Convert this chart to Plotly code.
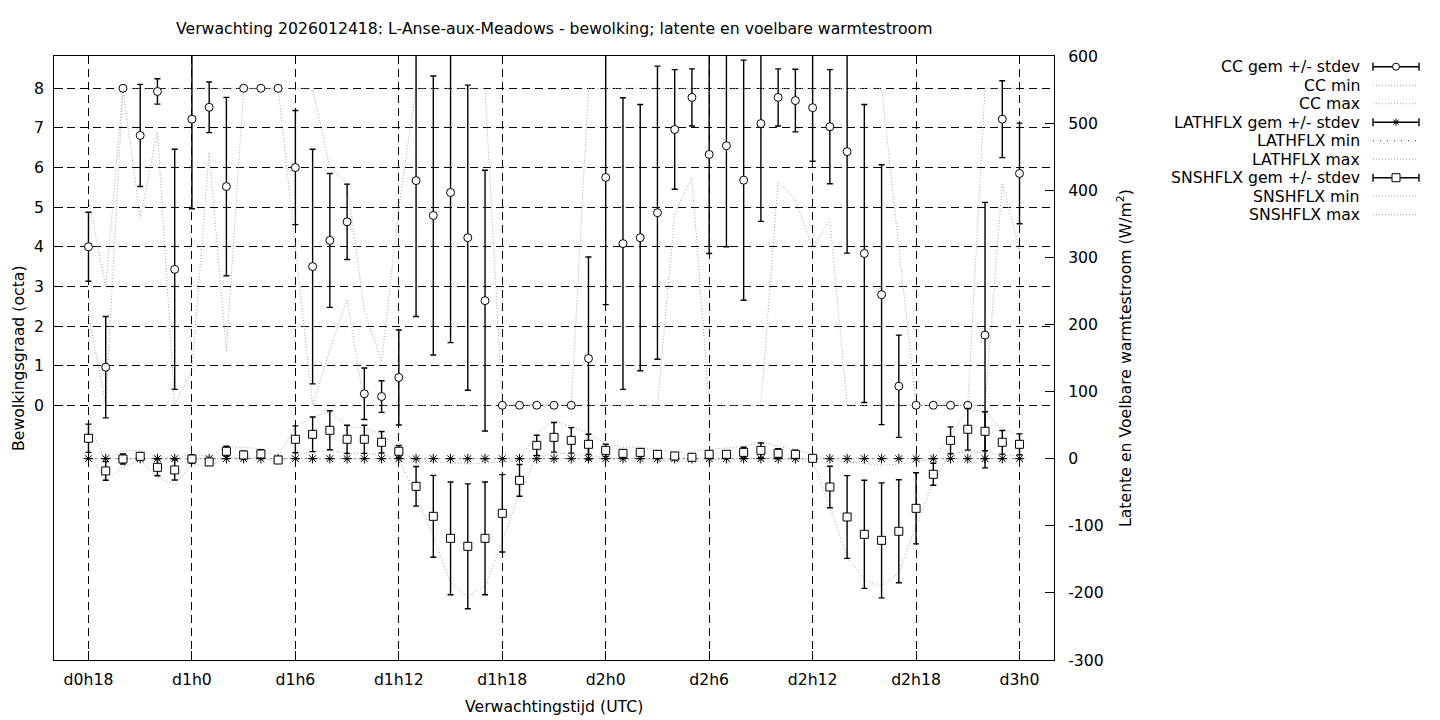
import plotly.graph_objects as go

# ---------------- data ----------------
hours = list(range(18, 73))  # forecast hours from d0h0
tick_vals = [18, 24, 30, 36, 42, 48, 54, 60, 66, 72]
tick_text = ["d0h18", "d1h0", "d1h6", "d1h12", "d1h18", "d2h0", "d2h6", "d2h12", "d2h18", "d3h0"]
y2_ticks = [-300, -200, -100, 0, 100, 200, 300, 400, 500, 600]
y2_text = ["-300", "-200", "-100", "0", "100", "200", "300", "400", "500", "600"]

cc_mean = [4.00, 0.96, 8.00, 6.81, 7.92, 3.43, 7.22, 7.52, 5.52, 8.00, 8.00, 8.00,
           6.00, 3.50, 4.16, 4.63, 0.29, 0.22, 0.70, 5.67, 4.79, 5.37, 4.23, 2.64,
           0.00, 0.00, 0.00, 0.00, 0.00, 1.18, 5.75, 4.08, 4.23, 4.86, 6.96, 7.77,
           6.33, 6.55, 5.68, 7.11, 7.77, 7.69, 7.51, 7.03, 6.40, 3.83, 2.79, 0.48,
           0.00, 0.00, 0.00, 0.00, 1.77, 7.22, 5.85]
cc_std = [0.87, 1.28, 0.00, 1.29, 0.32, 3.03, 2.26, 0.64, 2.25, 0.00, 0.00, 0.00,
          1.44, 2.96, 1.69, 0.95, 0.65, 0.40, 1.20, 3.43, 3.52, 3.79, 3.85, 3.29,
          0.00, 0.00, 0.00, 0.00, 0.00, 2.56, 3.21, 3.68, 3.36, 3.70, 1.51, 0.72,
          2.50, 2.55, 3.03, 2.47, 0.72, 0.79, 1.35, 1.44, 2.56, 3.76, 3.28, 1.29,
          0.00, 0.00, 0.00, 0.00, 3.35, 0.97, 1.27]
cc_min = [2.30, 0.00, 8.00, 4.73, 6.90, 0.00, 0.90, 6.37, 1.36, 8.00, 8.00, 8.00,
          4.00, 0.00, 1.40, 2.67, 0.00, 0.00, 0.00, 0.00, 0.00, 0.00, 0.00, 0.00,
          0.00, 0.00, 0.00, 0.00, 0.00, 0.00, 0.00, 0.00, 0.00, 0.00, 4.85, 5.74,
          0.00, 0.00, 0.00, 0.00, 5.65, 5.19, 3.97, 4.69, 0.00, 0.00, 0.00, 0.00,
          0.00, 0.00, 0.00, 0.00, 0.00, 5.61, 3.93]
cc_max = [5.20, 3.00, 8.00, 8.00, 8.00, 8.00, 8.00, 8.00, 8.00, 8.00, 8.00, 8.00,
          8.00, 8.00, 6.00, 5.60, 2.40, 1.10, 5.00, 8.00, 8.00, 8.00, 8.00, 8.00,
          0.00, 0.00, 0.00, 0.00, 0.00, 8.00, 8.00, 8.00, 8.00, 8.00, 8.00, 8.00,
          8.00, 8.00, 8.00, 8.00, 8.00, 8.00, 8.00, 8.00, 8.00, 8.00, 8.00, 4.00,
          0.00, 0.00, 0.00, 0.00, 8.00, 8.00, 8.00]

lat_mean = [0, 0, 0, 0, 0, 0, 0, 0, 0, 0, 0, 0, 0, 0, 0, 0, 0, 0, 0, 0, 0, 0, 0, 0,
            0, 0, 0, 0, 0, 0, 0, 0, 0, 0, 0, 0, 0, 0, 0, 0, 0, 0, 0, 0, 0, 0, 0, 0,
            0, 0, 0, 0, 0, 0, 0]
lat_std = [0, 0, 0, 0, 0, 0, 0, 0, 0, 0, 0, 0, 0, 0, 0, 0, 0, 0, 0, 0, 0, 0, 0, 0,
           0, 0, 0, 0, 0, 0, 0, 0, 0, 0, 0, 0, 0, 0, 0, 0, 0, 0, 0, 0, 0, 0, 0, 0,
           0, 0, 0, 0, 0, 0, 0]
lat_min = [0, 0, 0, 0, 0, 0, 0, 0, 0, 0, 0, 0, 0, 0, 0, 0, 0, 0, 0, 0, 0, 0, 0, 0,
           0, 0, 0, 0, 0, 0, 0, 0, 0, 0, 0, 0, 0, 0, 0, 0, 0, 0, 0, 0, 0, 0, 0, 0,
           0, 0, 0, 0, 0, 0, 0]
lat_max = [0, 0, 0, 0, 0, 0, 0, 0, 0, 0, 0, 0, 0, 0, 0, 0, 0, 0, 0, 0, 0, 0, 0, 0,
           0, 0, 0, 0, 0, 0, 0, 0, 0, 0, 0, 0, 0, 0, 0, 0, 0, 0, 0, 0, 0, 0, 0, 0,
           0, 0, 0, 0, 0, 0, 0]

sn_mean = [30.4, -18.3, -0.5, 3.5, -12.9, -16.8, -0.5, -4.9, 11.0, 5.5, 7.0, -2.0,
           28.9, 36.3, 42.3, 28.9, 28.9, 24.4, 11.0, -41.2, -85.9, -118.7, -130.6, -118.7,
           -81.4, -32.3, 19.9, 31.8, 27.3, 21.4, 12.4, 8.0, 9.4, 6.5, 4.0, 2.0,
           6.5, 6.5, 9.4, 12.4, 8.0, 6.5, 0.5, -42.2, -86.9, -112.7, -121.7, -108.2,
           -74.0, -23.3, 27.3, 43.8, 40.8, 24.4, 21.4]
sn_std = [21.0, 13.9, 7.5, 5.5, 12.5, 15.0, 6.0, 5.0, 7.5, 5.5, 6.5, 3.0,
          20.0, 25.8, 29.0, 21.0, 21.0, 16.0, 8.7, 29.5, 61.0, 84.0, 93.0, 84.0,
          57.6, 23.7, 15.0, 22.0, 19.0, 15.0, 9.0, 5.0, 5.0, 4.5, 3.0, 2.0,
          5.0, 4.0, 7.5, 11.0, 7.0, 6.0, 0.5, 31.0, 61.6, 80.5, 85.7, 76.7,
          53.0, 16.4, 20.0, 31.0, 29.0, 17.6, 15.6]
sn_min = [10, -33, -12, -3, -27, -39, -8, -12, 3, 0, 2, -6,
          5, 10, 12, 8, 8, 6, 0, -55, -115, -185, -205, -190,
          -125, -50, 2, 8, 7, 4, 2, 0, 1, -2, -4, -5,
          -2, 0, 0, 1, 0, -1, -3, -72, -146, -181, -190, -170,
          -100, -35, 8, 10, 10, 5, 5]
sn_max = [52, -2, 12, 12, 4, 0, 7, 3, 18, 17, 15, 3,
          48, 62, 70, 48, 45, 37, 13, -3, -5, -6, -8, -6,
          -5, -2, 38, 56, 48, 38, 22, 17, 17, 13, 10, 10,
          14, 16, 18, 25, 18, 14, 5, -2, -5, -8, -10, -8,
          -5, -1, 35, 73, 70, 43, 36]

legend_labels = ["CC gem +/- stdev", "CC min", "CC max",
                 "LATHFLX gem +/- stdev", "LATHFLX min", "LATHFLX max",
                 "SNSHFLX gem +/- stdev", "SNSHFLX min", "SNSHFLX max"]

# ---------------- styling ----------------
FONT = "DejaVu Sans"
FS = 15.7
GRAY = "rgb(165,165,165)"
DARK = "rgb(90,90,90)"
FINE = "1px,2px"
SPARSE = "1px,6px"
GRID_DASH = "8px,5px"

# target plot area in screenshot pixels
L, R, T, B = 54, 1054, 56, 660
W, H = 1440, 720
OFF = 8  # browser default body margin


def px(xp):
    return (xp - L) / (R - L)


def py(yp):
    return (B - yp) / (B - T)


fig = go.Figure()

# min / max lines
fig.add_trace(go.Scatter(x=hours, y=cc_min, mode="lines", yaxis="y",
                         line=dict(color=GRAY, width=1, dash=FINE)))
fig.add_trace(go.Scatter(x=hours, y=cc_max, mode="lines", yaxis="y",
                         line=dict(color=GRAY, width=1, dash=FINE)))
fig.add_trace(go.Scatter(x=hours, y=sn_min, mode="lines", yaxis="y2",
                         line=dict(color=GRAY, width=1, dash=FINE)))
fig.add_trace(go.Scatter(x=hours, y=sn_max, mode="lines", yaxis="y2",
                         line=dict(color=GRAY, width=1, dash=FINE)))
fig.add_trace(go.Scatter(x=hours, y=lat_max, mode="lines", yaxis="y2",
                         line=dict(color=GRAY, width=1, dash=FINE)))
fig.add_trace(go.Scatter(x=hours, y=lat_min, mode="lines", yaxis="y2",
                         line=dict(color=DARK, width=1.2, dash=SPARSE)))

# mean +/- stdev
err = dict(type="data", visible=True, color="black", thickness=1.4, width=3)
fig.add_trace(go.Scatter(x=hours, y=cc_mean, mode="markers", yaxis="y",
                         marker=dict(symbol="circle", size=8, color="white",
                                     line=dict(color="black", width=1)),
                         error_y=dict(array=cc_std, **err)))
fig.add_trace(go.Scatter(x=hours, y=lat_mean, mode="markers", yaxis="y2",
                         marker=dict(symbol="asterisk-open", size=8, color="black",
                                     line=dict(color="black", width=1)),
                         error_y=dict(array=lat_std, **err)))
fig.add_trace(go.Scatter(x=hours, y=sn_mean, mode="markers", yaxis="y2",
                         marker=dict(symbol="square", size=8, color="white",
                                     line=dict(color="black", width=1)),
                         error_y=dict(array=sn_std, **err)))

# ---------------- manual legend (gnuplot style: text right, sample left) ----------------
shapes = []
annotations = []
row0, dy = 66.7, 18.5
txt_right = 1362
s0, s1 = 1373, 1419
for i, lab in enumerate(legend_labels):
    yy = row0 + dy * i
    annotations.append(dict(x=px(txt_right), y=py(yy), xref="paper", yref="paper",
                            text=lab, showarrow=False, xanchor="right", yanchor="middle",
                            font=dict(family=FONT, size=FS, color="black")))
    kind = i % 3
    if kind == 0:
        shapes.append(dict(type="line", xref="paper", yref="paper",
                           x0=px(s0), x1=px(s1), y0=py(yy), y1=py(yy),
                           line=dict(color="black", width=1.4)))
        for xe in (s0, s1):
            shapes.append(dict(type="line", xref="paper", yref="paper",
                               x0=px(xe), x1=px(xe), y0=py(yy - 4), y1=py(yy + 4),
                               line=dict(color="black", width=1.4)))
        cx = (s0 + s1) / 2
        if i == 0:
            shapes.append(dict(type="circle", xref="paper", yref="paper",
                               x0=px(cx - 3.5), x1=px(cx + 3.5), y0=py(yy - 3.5), y1=py(yy + 3.5),
                               fillcolor="white", line=dict(color="black", width=1)))
        elif i == 3:
            for (ddx, ddy) in ((3.5, 0), (0, 3.5), (2.6, 2.6), (2.6, -2.6)):
                shapes.append(dict(type="line", xref="paper", yref="paper",
                                   x0=px(cx - ddx), x1=px(cx + ddx),
                                   y0=py(yy - ddy), y1=py(yy + ddy),
                                   line=dict(color="black", width=1)))
        else:
            shapes.append(dict(type="rect", xref="paper", yref="paper",
                               x0=px(cx - 4), x1=px(cx + 4), y0=py(yy - 4), y1=py(yy + 4),
                               fillcolor="white", line=dict(color="black", width=1)))
    else:
        sparse = (i == 4)
        shapes.append(dict(type="line", xref="paper", yref="paper",
                           x0=px(s0), x1=px(s1 - 2), y0=py(yy), y1=py(yy),
                           line=dict(color=DARK if sparse else GRAY, width=1.2 if sparse else 1,
                                     dash=SPARSE if sparse else FINE)))

# titles
annotations.append(dict(x=0.5, y=py(29), xref="paper", yref="paper", showarrow=False,
                        text="Verwachting 2026012418: L-Anse-aux-Meadows - bewolking; latente en voelbare warmtestroom",
                        xanchor="center", yanchor="middle", font=dict(family=FONT, size=FS)))
annotations.append(dict(x=0.5, y=py(706), xref="paper", yref="paper", showarrow=False,
                        text="Verwachtingstijd (UTC)", xanchor="center", yanchor="middle",
                        font=dict(family=FONT, size=FS)))
annotations.append(dict(x=px(18), y=0.5, xref="paper", yref="paper", showarrow=False,
                        text="Bewolkingsgraad (octa)", textangle=-90, xanchor="center",
                        yanchor="middle", font=dict(family=FONT, size=FS)))
annotations.append(dict(x=px(1124), y=0.5, xref="paper", yref="paper", showarrow=False,
                        text="Latente en Voelbare warmtestroom (W/m<sup>2</sup>)", textangle=-90,
                        xanchor="center", yanchor="middle", font=dict(family=FONT, size=FS)))

grid = dict(showgrid=True, gridcolor="black", gridwidth=1, griddash=GRID_DASH)

fig.update_layout(
    width=W - OFF, height=H - OFF,
    margin=dict(l=L - OFF, r=W - R, t=T - OFF, b=H - B, pad=0),
    paper_bgcolor="white", plot_bgcolor="white",
    font=dict(family=FONT, size=FS, color="black"),
    showlegend=False,
    xaxis=dict(range=[16, 74], tickvals=tick_vals, ticktext=tick_text,
               showline=True, linecolor="black", linewidth=1, mirror=True,
               ticks="inside", ticklen=9, tickcolor="black", zeroline=False,
               ticklabelstandoff=5, **grid),
    yaxis=dict(range=[-6.43, 8.815], tickvals=[0, 1, 2, 3, 4, 5, 6, 7, 8],
               showline=True, linecolor="black", linewidth=1, mirror=False,
               ticks="inside", ticklen=9, tickcolor="black", zeroline=False,
               ticklabelstandoff=6, **grid),
    yaxis2=dict(range=[-300, 600], tickvals=y2_ticks, ticktext=y2_text,
                overlaying="y", side="right", showgrid=False,
                showline=True, linecolor="black", linewidth=1,
                ticks="inside", ticklen=9, tickcolor="black", zeroline=False,
                ticklabelstandoff=10),
    shapes=shapes,
    annotations=annotations,
)

fig.write_html("out.html")
